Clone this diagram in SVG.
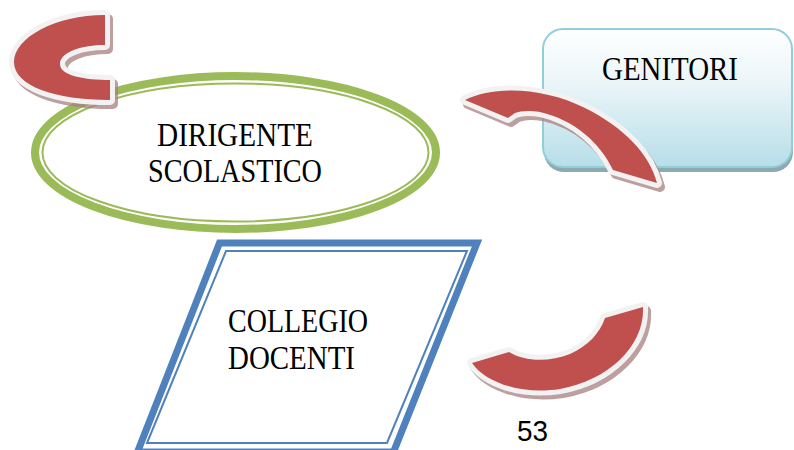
<svg xmlns="http://www.w3.org/2000/svg" width="794" height="450" viewBox="0 0 794 450">
<defs>
<linearGradient id="boxg" x1="0" y1="0" x2="0" y2="1">
<stop offset="0" stop-color="#FFFFFF"/>
<stop offset="0.4" stop-color="#EAF5F8"/>
<stop offset="1" stop-color="#B7DEE8"/>
</linearGradient>
<path id="arc1" d="M105,15 C55,15 14,38 14,62 C14,86 55,100 110,100 L110,80 C85,80 60,76 60,64 C60,52 82,45 105,45 Z"/>
<path id="arc2" d="M465,100 C495,85 545,88 585,108 C625,128 650,155 657,183 L613,170 C600,143 575,120 540,112 C528,110 520,111 515,113 L508,118 Z"/>
<path id="arc3" d="M472,363 L509,352 C525,362 550,362 570,354 C588,346 600,333 605,318 L643,307 C645,345 610,380 560,389 C520,395 485,382 472,363 Z"/>
</defs>
<style>
.lbl{font-family:"Liberation Serif","DejaVu Serif",serif;font-size:33px;fill:#000}
.num{font-family:"Liberation Sans","Open Sans",sans-serif;font-size:30px;fill:#000}
.shadow{fill:#A98080;stroke:#A98080;stroke-width:10;stroke-linejoin:round;opacity:0.75}
.rim{fill:#F2F2F2;stroke:#F2F2F2;stroke-width:10;stroke-linejoin:round}
.red{fill:#C0504D}
</style>
<g id="genitori">
<rect x="544" y="34" width="249" height="138" rx="20" fill="#8FAAAF"/>
<rect x="543" y="29" width="249" height="138" rx="20" fill="url(#boxg)" stroke="#92CDDC" stroke-width="2"/>
<text class="lbl" x="670" y="80" text-anchor="middle" textLength="136" lengthAdjust="spacingAndGlyphs">GENITORI</text>
</g>
<g id="dirigente">
<ellipse cx="235.5" cy="152.5" rx="200.5" ry="76.5" fill="#FFFFFF" stroke="#9BBB59" stroke-width="8"/>
<ellipse cx="235.5" cy="152.5" rx="193" ry="69" fill="none" stroke="#9BBB59" stroke-width="2"/>
<text class="lbl" x="235" y="146" text-anchor="middle" textLength="156" lengthAdjust="spacingAndGlyphs">DIRIGENTE</text>
<text class="lbl" x="235" y="182" text-anchor="middle" textLength="174" lengthAdjust="spacingAndGlyphs">SCOLASTICO</text>
</g>
<g id="collegio">
<polygon points="219.5,243 477,243 393.5,452 137.5,452" fill="#FFFFFF" stroke="#4F81BD" stroke-width="7" stroke-linejoin="miter"/>
<polygon points="226,251 467,251 387,443 147,443" fill="none" stroke="#4F81BD" stroke-width="2"/>
<text class="lbl" x="228" y="332" textLength="140" lengthAdjust="spacingAndGlyphs">COLLEGIO</text>
<text class="lbl" x="228" y="369" textLength="127" lengthAdjust="spacingAndGlyphs">DOCENTI</text>
</g>
<g id="connectors">
<g id="arrow1">
<use href="#arc1" class="shadow" transform="translate(3,4)"/>
<use href="#arc1" class="rim"/>
<use href="#arc1" class="red"/>
</g>
<g id="arrow2">
<use href="#arc2" class="shadow" transform="translate(3,4)"/>
<use href="#arc2" class="rim"/>
<use href="#arc2" class="red"/>
</g>
<g id="arrow3">
<use href="#arc3" class="shadow" transform="translate(3,4)"/>
<use href="#arc3" class="rim"/>
<use href="#arc3" class="red"/>
</g>
</g>
<text class="num" x="532.5" y="441" text-anchor="middle" textLength="31" lengthAdjust="spacingAndGlyphs">53</text>
</svg>
